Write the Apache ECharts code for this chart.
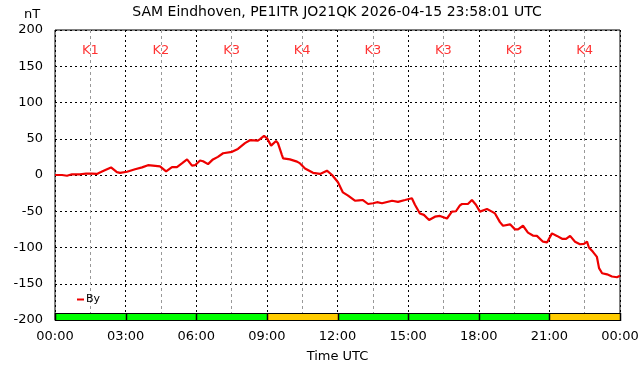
<!DOCTYPE html>
<html>
<head>
<meta charset="utf-8">
<script src="https://cdn.jsdelivr.net/npm/echarts@6/dist/echarts.min.js"></script>
<style>html,body{margin:0;padding:0;background:#fff}#c{width:642px;height:376px}</style>
</head>
<body>
<div id="c"></div>
<script>
const titleText = 'SAM Eindhoven, PE1ITR JO21QK 2026-04-15 23:58:01 UTC';
const seriesName = 'By';
const hours = [0,0.30,0.51,0.72,1.06,1.32,1.57,1.78,1.95,2.21,2.38,2.63,2.76,3.06,3.40,3.70,3.95,4.16,4.46,4.72,4.97,5.18,5.39,5.61,5.82,5.95,6.16,6.29,6.50,6.71,6.92,7.14,7.52,7.77,8.07,8.28,8.62,8.71,8.88,9.01,9.18,9.26,9.39,9.47,9.64,9.69,9.98,10.28,10.41,10.62,10.96,11.26,11.55,11.77,12.02,12.23,12.45,12.74,12.91,13.08,13.30,13.51,13.68,13.89,14.32,14.57,14.87,15.16,15.29,15.50,15.67,15.89,16.14,16.35,16.65,16.86,17.03,17.20,17.29,17.54,17.71,17.88,18.05,18.35,18.56,18.69,18.90,19.03,19.33,19.54,19.67,19.88,20.09,20.30,20.47,20.73,20.90,21.11,21.32,21.54,21.71,21.88,22.09,22.30,22.47,22.60,22.68,22.85,23.02,23.11,23.24,23.45,23.66,23.87,24.0];
const byValues = [0,0,-1,1,1,2,2,1.5,4,8,10.5,4,3,4.5,8,10.5,13.5,13,12,5,11,11,16,21.5,13,13.5,20,19,15,21.5,25,30,32,36,44,48,47.5,49.5,54,50.5,40.5,42,47,44,27.5,23,21.5,18.5,16,9,3,1.5,6,0,-10,-24,-28.5,-35.5,-35,-34.5,-40,-39,-37.5,-39,-35.5,-37,-34.5,-32,-41,-53,-55,-62,-57.5,-56.5,-60,-50.5,-50,-42,-40,-40,-34.5,-41,-50.5,-47,-50.5,-53,-65,-70,-68,-75,-75,-70,-79.5,-83.5,-84,-92,-93,-80.5,-84,-88,-88,-84,-92,-95.5,-95,-92,-100,-106,-113,-128.5,-135.5,-137,-140,-141,-139];
const kIndex = [1,2,3,4,3,3,3,4];
const kStartHours = [0,3,6,9,12,15,18,21];
const xTicks = [0,3,6,9,12,15,18,21,24];
const yTicks = [-200,-150,-100,-50,0,50,100,150,200];

const FONT = 'DejaVu Sans';
const lineData = hours.map((h,i)=>[h, byValues[i]]);
const kBarData = kIndex.map((k,i)=>[kStartHours[i], kStartHours[i]+3, k]);
const kLabelData = kIndex.map((k,i)=>({value:[kStartHours[i]+1.5, 172], name:'K'+k}));
const kEdgeData = xTicks.map(h=>[h]);

function kShape(api){
  const p1 = api.coord([api.value(0), -190]);
  const p2 = api.coord([api.value(1), -200]);
  const x1 = Math.round(p1[0]), x2 = Math.round(p2[0]);
  const y1 = Math.round(p1[1]), y2 = Math.round(p2[1]);
  return {x:x1+0.5, y:y1+0.5, width:x2-x1, height:y2-y1};
}

const chart = echarts.init(document.getElementById('c'), null, {renderer:'canvas'});
chart.setOption({
  animation:false,
  backgroundColor:'#fff',
  textStyle:{fontFamily:FONT},
  grid:{left:55, right:22, top:30, bottom:56, show:true, borderColor:'#000', borderWidth:1, backgroundColor:'transparent'},
  graphic:[
    {type:'text', x:337, y:5, style:{text:titleText, font:'14px "DejaVu Sans"', fill:'#000', align:'center', textAlign:'center'}},
    {type:'text', x:24, y:8, style:{text:'nT', font:'13px "DejaVu Sans"', fill:'#000'}}
  ],
  legend:{show:true, left:72, top:289, data:[{name:seriesName, icon:'rect'}], itemWidth:7, itemHeight:2, itemGap:2,
    textStyle:{fontFamily:FONT, fontSize:11, color:'#000', padding:[0,0,0,-3]}},
  xAxis:{type:'value', min:0, max:24, interval:3,
    name:'Time UTC', nameLocation:'middle', nameGap:30, nameTextStyle:{fontFamily:FONT, fontSize:13, color:'#000'},
    axisLine:{show:false}, axisTick:{show:false},
    axisLabel:{fontFamily:FONT, fontSize:13, color:'#000', margin:10, showMinLabel:true, showMaxLabel:true,
      formatter:v=>String(v%24).padStart(2,'0')+':00'},
    splitLine:{show:true, lineStyle:{color:'#000', type:[2,3], width:1}},
    minorTick:{show:false, splitNumber:2},
    minorSplitLine:{show:true, lineStyle:{color:'#999', type:[3,3], width:1}}
  },
  yAxis:{type:'value', min:-200, max:200, interval:50,
    axisLine:{show:false}, axisTick:{show:false},
    axisLabel:{fontFamily:FONT, fontSize:13, color:'#000', margin:12},
    splitLine:{show:true, lineStyle:{color:'#000', type:[2,3], width:1}}
  },
  series:[
    {type:'custom', name:'Kfill', silent:true, z:3, data:kBarData,
      renderItem:(params, api)=>({type:'rect', shape:kShape(api),
        style:{fill: api.value(2)>=4 ? '#ffcc00' : '#00ff00', stroke:'#000', lineWidth:1}})},
    {type:'custom', name:'Kedge', silent:true, z:3.5, data:kEdgeData, clip:false,
      renderItem:(params, api)=>{
        const top = api.coord([api.value(0), -190]);
        const bot = api.coord([api.value(0), -200]);
        const x = Math.round(top[0]) + 0.5;
        return {type:'line', shape:{x1:x, y1:Math.round(top[1]), x2:x, y2:Math.round(bot[1])+1},
          style:{stroke:'#000', lineWidth:1.5}};
      }},
    {type:'scatter', name:'Klabel', silent:true, symbolSize:0, data:kLabelData,
      label:{show:true, position:'inside', formatter:p=>p.name, color:'#ff0000', fontFamily:FONT, fontSize:13}},
    {type:'line', name:seriesName, data:lineData, showSymbol:false, symbol:'none', z:4,
      lineStyle:{color:'#ee0000', width:2.2}, itemStyle:{color:'#ee0000'}}
  ]
});
</script>
</body>
</html>
